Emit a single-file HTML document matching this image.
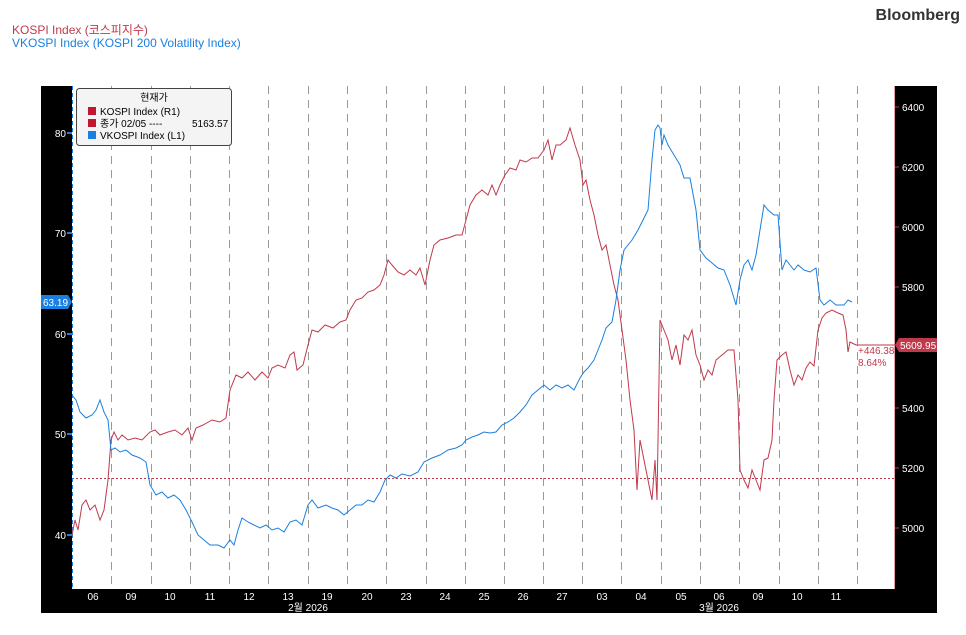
<!DOCTYPE html>
<html><head><meta charset="utf-8"><style>
body{margin:0;background:#fff;width:966px;height:630px;overflow:hidden;font-family:"Liberation Sans","Noto Sans CJK KR",sans-serif}
</style></head><body>
<svg width="966" height="630" xmlns="http://www.w3.org/2000/svg" font-family="Liberation Sans, Noto Sans CJK KR, sans-serif">
<text x="12" y="34" font-size="12" fill="#c0394b">KOSPI Index (코스피지수)</text>
<text x="12" y="47" font-size="12" fill="#1a7fe0">VKOSPI Index (KOSPI 200 Volatility Index)</text>
<text x="960" y="20" font-size="16" font-weight="bold" fill="#333" text-anchor="end">Bloomberg</text>
<rect x="41" y="86" width="896" height="527" fill="#000"/>
<rect x="72" y="86" width="823" height="503" fill="#fff"/>
<g stroke="#999" stroke-dasharray="8,6" stroke-width="1">
<line x1="111.5" y1="86" x2="111.5" y2="589"/><line x1="151.5" y1="86" x2="151.5" y2="589"/><line x1="190.5" y1="86" x2="190.5" y2="589"/><line x1="229.5" y1="86" x2="229.5" y2="589"/><line x1="268.5" y1="86" x2="268.5" y2="589"/><line x1="308.5" y1="86" x2="308.5" y2="589"/><line x1="347.5" y1="86" x2="347.5" y2="589"/><line x1="386.5" y1="86" x2="386.5" y2="589"/><line x1="426.5" y1="86" x2="426.5" y2="589"/><line x1="465.5" y1="86" x2="465.5" y2="589"/><line x1="504.5" y1="86" x2="504.5" y2="589"/><line x1="543.5" y1="86" x2="543.5" y2="589"/><line x1="582.5" y1="86" x2="582.5" y2="589"/><line x1="621.5" y1="86" x2="621.5" y2="589"/><line x1="661.5" y1="86" x2="661.5" y2="589"/><line x1="700.5" y1="86" x2="700.5" y2="589"/><line x1="739.5" y1="86" x2="739.5" y2="589"/><line x1="779.5" y1="86" x2="779.5" y2="589"/><line x1="818.5" y1="86" x2="818.5" y2="589"/><line x1="857.5" y1="86" x2="857.5" y2="589"/>
</g>
<line x1="72" y1="478.5" x2="895" y2="478.5" stroke="#c0394b" stroke-dasharray="2,2"/>
<line x1="72.5" y1="86" x2="72.5" y2="589" stroke="#1a7fe0" stroke-dasharray="4,3"/>
<line x1="894.5" y1="86" x2="894.5" y2="589" stroke="#e6a0aa"/>
<polyline fill="none" stroke="#c0394b" stroke-width="1" points="72,535 75,520 78,530 82,505 86,500 90,510 95,505 100,520 104,510 108,480 111,440 114,432 118,440 122,435 128,440 135,438 142,440 150,432 155,430 160,435 168,432 175,430 182,435 188,428 192,440 196,428 203,425 212,420 220,422 226,418 230,390 236,375 242,378 248,372 255,380 262,372 268,378 272,368 278,365 285,368 290,355 294,352 297,370 303,365 308,345 312,330 318,332 325,325 333,328 340,322 346,320 350,310 356,300 362,298 368,292 374,290 380,285 384,275 388,260 392,265 398,272 404,275 410,270 416,275 420,268 425,285 430,260 434,245 440,240 448,238 456,235 462,235 466,220 470,205 476,195 482,190 488,195 492,185 496,195 500,185 505,175 510,168 516,170 520,160 526,162 532,158 538,158 544,150 548,140 552,160 556,145 560,145 566,140 570,128 575,145 580,160 583,185 586,180 590,200 594,215 598,235 602,250 606,245 610,265 614,285 618,300 622,330 626,360 630,400 634,430 637,490 640,440 644,460 648,480 652,500 655,460 657,500 660,320 664,330 668,340 672,360 676,345 680,365 684,335 688,340 692,330 696,355 700,365 704,380 708,370 712,375 716,360 722,355 728,350 734,350 738,400 740,470 744,480 748,488 752,470 756,480 760,490 764,460 768,458 772,440 774,400 777,360 782,355 786,352 790,370 794,385 798,375 802,380 806,368 810,362 814,366 818,330 822,318 826,313 832,310 838,313 843,315 846,330 848,352 850,342 856,345 862,345 895,345"/>
<polyline fill="none" stroke="#1a7fe0" stroke-width="1" points="72,395 76,400 80,412 86,418 92,415 96,410 100,400 104,412 108,420 111,450 115,448 120,452 126,450 132,455 140,458 146,462 150,485 156,495 162,492 168,498 174,495 180,500 186,510 192,522 198,535 204,540 210,545 218,545 224,548 230,540 234,545 238,530 242,518 248,522 254,525 260,528 266,525 272,530 278,528 284,532 290,522 296,520 302,525 308,505 312,500 318,508 326,505 332,508 338,510 344,515 350,510 356,505 362,505 368,500 374,502 380,492 385,480 390,475 396,478 402,474 410,476 418,472 424,462 432,458 440,455 448,450 456,448 462,445 466,440 472,437 478,435 484,432 490,433 496,432 502,425 508,422 514,418 520,412 526,405 532,395 538,390 544,385 550,390 556,385 562,388 568,385 574,390 580,378 584,372 588,368 594,360 598,350 602,340 606,328 612,322 616,300 620,270 624,250 628,245 632,240 638,230 644,218 648,210 652,160 655,130 658,125 660,128 662,145 664,135 668,145 674,155 680,165 684,178 690,178 696,210 700,250 706,258 712,263 718,268 724,270 730,285 736,305 740,280 744,265 748,260 752,270 756,255 760,230 764,205 768,210 774,215 778,215 782,270 786,260 790,265 794,270 798,265 804,270 810,272 816,268 820,300 824,305 830,300 836,305 844,305 848,300 852,302"/>
<g font-size="10" fill="#fff" text-anchor="end">
<text x="66" y="137">80</text><text x="66" y="237">70</text><text x="66" y="338">60</text><text x="66" y="438">50</text><text x="66" y="539">40</text>
</g>
<g stroke="#1a7fe0" stroke-width="2"><line x1="67" y1="133" x2="72" y2="133"/><line x1="67" y1="233" x2="72" y2="233"/><line x1="67" y1="334" x2="72" y2="334"/><line x1="67" y1="434" x2="72" y2="434"/><line x1="67" y1="535" x2="72" y2="535"/></g>
<polygon points="41,295 68,295 72,302 68,309 41,309" fill="#1a7fe0"/>
<text x="43" y="306" font-size="10" fill="#fff">63.19</text>
<g font-size="10" fill="#fff">
<text x="902" y="111">6400</text><text x="902" y="171">6200</text><text x="902" y="231">6000</text><text x="902" y="291">5800</text><text x="902" y="412">5400</text><text x="902" y="472">5200</text><text x="902" y="532">5000</text>
</g>
<g stroke="#c0394b" stroke-width="1"><line x1="895" y1="107" x2="899" y2="107"/><line x1="895" y1="167" x2="899" y2="167"/><line x1="895" y1="227" x2="899" y2="227"/><line x1="895" y1="287" x2="899" y2="287"/><line x1="895" y1="408" x2="899" y2="408"/><line x1="895" y1="468" x2="899" y2="468"/><line x1="895" y1="528" x2="899" y2="528"/></g>
<polygon points="895,345 899,338 937,338 937,352 899,352" fill="#c0394b"/>
<text x="900" y="349" font-size="10" fill="#fff">5609.95</text>
<text x="858" y="354" font-size="10" fill="#c0394b">+446.38</text>
<text x="858" y="366" font-size="10" fill="#c0394b">8.64%</text>
<g font-size="10" fill="#fff" text-anchor="middle">
<text x="93" y="600">06</text><text x="131" y="600">09</text><text x="170" y="600">10</text><text x="210" y="600">11</text><text x="249" y="600">12</text><text x="288" y="600">13</text><text x="327" y="600">19</text><text x="367" y="600">20</text><text x="406" y="600">23</text><text x="445" y="600">24</text><text x="484" y="600">25</text><text x="523" y="600">26</text><text x="562" y="600">27</text><text x="602" y="600">03</text><text x="641" y="600">04</text><text x="681" y="600">05</text><text x="719" y="600">06</text><text x="758" y="600">09</text><text x="797" y="600">10</text><text x="836" y="600">11</text>
<text x="308" y="611">2월 2026</text><text x="719" y="611">3월 2026</text>
</g>
<rect x="76.5" y="88.5" width="155" height="57" rx="3" fill="#f4f4f4" stroke="#444"/>
<g font-size="10" fill="#000">
<text x="154" y="101" text-anchor="middle">현재가</text>
<rect x="88" y="107" width="8" height="8" fill="#c0182e"/><text x="100" y="115">KOSPI Index  (R1)</text>
<rect x="88" y="119" width="8" height="8" fill="#c0182e"/><text x="100" y="127">종가 02/05 ----</text><text x="192" y="127">5163.57</text>
<rect x="88" y="131" width="8" height="8" fill="#1a7fe0"/><text x="100" y="139">VKOSPI Index  (L1)</text>
</g>
</svg>
</body></html>
